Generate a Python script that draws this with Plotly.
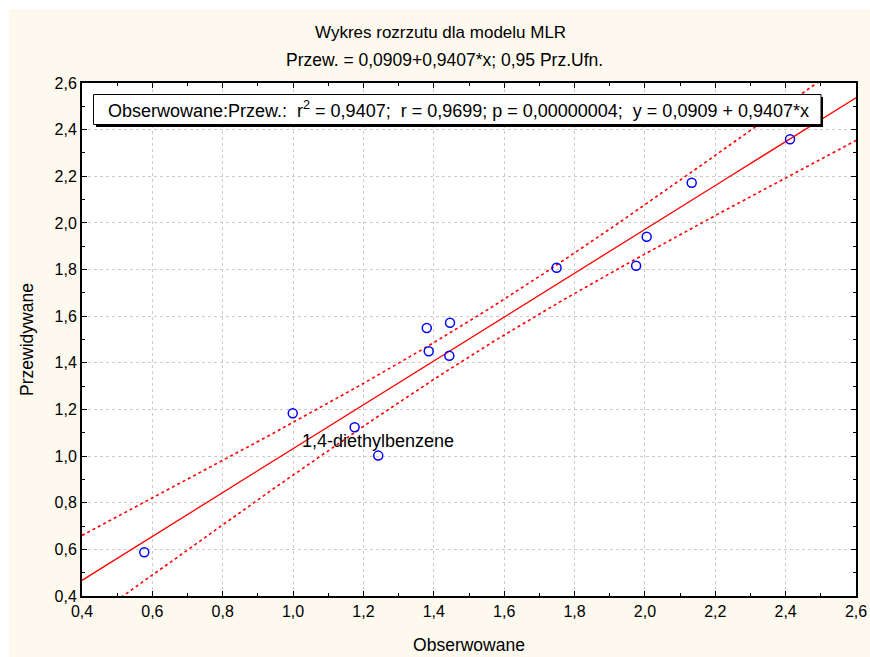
import numpy as np
import plotly.graph_objects as go

# Data
observed = [0.577, 0.999, 1.175, 1.242, 1.380, 1.3855, 1.446, 1.444, 1.749, 1.975, 2.005, 2.133, 2.4125]
predicted = [0.5875, 1.1836, 1.1236, 1.002, 1.549, 1.4495, 1.572, 1.4306, 1.808, 1.8166, 1.941, 2.1725, 2.3586]
point_labels = ["", "", "", "1,4-diethylbenzene", "", "", "", "", "", "", "", "", ""]
intercept = 0.0909
slope = 0.9407
t_crit = 2.201  # t(0.975, n-2=11)

title_line1 = "Wykres rozrzutu dla modelu MLR"
title_line2 = "Przew. = 0,0909+0,9407*x; 0,95 Prz.Ufn."
stats_text = ("Obserwowane:Przew.:\u00a0\u00a0r<sup>2</sup> = 0,9407;\u00a0\u00a0r = 0,9699; "
              "p = 0,00000004;\u00a0\u00a0y = 0,0909 + 0,9407*x")
x_title = "Obserwowane"
y_title = "Przewidywane"
tick_vals = [0.4, 0.6, 0.8, 1.0, 1.2, 1.4, 1.6, 1.8, 2.0, 2.2, 2.4, 2.6]

x = np.array(observed)
y = np.array(predicted)
n = len(x)
resid = y - (intercept + slope * x)
s = np.sqrt(np.sum(resid ** 2) / (n - 2))
sxx = np.sum((x - x.mean()) ** 2)
xl = np.linspace(0.4, 2.6, 200)
yl = intercept + slope * xl
half = t_crit * s * np.sqrt(1.0 / n + (xl - x.mean()) ** 2 / sxx)

FONT = "Arial, Liberation Sans, sans-serif"
W, H = 870, 657
L, R, T, B = 82, 14, 83, 61
pw, ph = W - L - R, H - T - B


def px(xp):
    return (xp - L) / pw


def py(yp):
    return (H - B - yp) / ph


fig = go.Figure()
fig.add_trace(go.Scatter(x=xl, y=yl, mode="lines", line=dict(color="#FF0000", width=1.3), hoverinfo="skip"))
fig.add_trace(go.Scatter(x=xl, y=yl + half, mode="lines", line=dict(color="#FF0000", width=1.6, dash="dot"), hoverinfo="skip"))
fig.add_trace(go.Scatter(x=xl, y=yl - half, mode="lines", line=dict(color="#FF0000", width=1.6, dash="dot"), hoverinfo="skip"))
fig.add_trace(go.Scatter(x=observed, y=predicted, mode="markers",
                         marker=dict(symbol="circle-open", size=9, color="#0000FF", line=dict(width=1.5, color="#0000FF"))))

for xi, yi, lab in zip(observed, predicted, point_labels):
    if lab:
        fig.add_annotation(x=xi, y=yi, text=lab, showarrow=False, yshift=15,
                           font=dict(family=FONT, size=18, color="black"))

axis_common = dict(
    range=[0.4, 2.6], tickvals=tick_vals, tickformat=".1f",
    ticks="inside", ticklen=5, tickwidth=1, tickcolor="black",
    showline=True, linecolor="black", linewidth=2, mirror="ticks",
    showgrid=True, gridcolor="#cccccc", griddash="dot", gridwidth=1,
    zeroline=False,
    minor=dict(dtick=0.1, ticks="inside", ticklen=3, tickcolor="black", showgrid=False),
    tickfont=dict(family=FONT, size=16, color="black"),
)
fig.update_xaxes(**axis_common, title=dict(text=x_title, font=dict(family=FONT, size=17.5, color="black"), standoff=20))
fig.update_yaxes(**axis_common, title=dict(text=y_title, font=dict(family=FONT, size=17.5, color="black"), standoff=16))

shapes = [
    dict(type="rect", xref="paper", yref="paper", x0=px(0), x1=px(9), y0=py(H), y1=py(0),
         fillcolor="white", line=dict(width=0), layer="below"),
    dict(type="rect", xref="paper", yref="paper", x0=px(0), x1=px(W), y0=py(9), y1=py(0),
         fillcolor="white", line=dict(width=0), layer="below"),
    dict(type="rect", xref="paper", yref="paper", x0=px(96), x1=px(823), y0=py(127), y1=py(97),
         fillcolor="black", line=dict(width=0), layer="above"),
    dict(type="rect", xref="paper", yref="paper", x0=px(93.5), x1=px(821), y0=py(124.5), y1=py(94.5),
         fillcolor="white", line=dict(width=1, color="black"), layer="above"),
]
fig.update_layout(shapes=shapes)

fig.add_annotation(xref="paper", yref="paper", x=px(440), y=py(33), text=title_line1, showarrow=False,
                   xanchor="center", yanchor="middle", font=dict(family=FONT, size=17, color="black"))
fig.add_annotation(xref="paper", yref="paper", x=px(444), y=py(60), text=title_line2, showarrow=False,
                   xanchor="center", yanchor="middle", font=dict(family=FONT, size=17.5, color="black"))
fig.add_annotation(xref="paper", yref="paper", x=px(458), y=py(109.5), text=stats_text, showarrow=False,
                   xanchor="center", yanchor="middle", font=dict(family=FONT, size=18, color="black"))

fig.update_layout(
    width=W, height=H,
    margin=dict(l=L, r=R, t=T, b=B, autoexpand=False),
    paper_bgcolor="#FEF9EE", plot_bgcolor="white",
    showlegend=False, separators=", ",
    font=dict(family=FONT, color="black"),
)
fig.write_html("out.html", config={"responsive": False},
               post_script="document.body.style.margin='0';document.body.style.overflow='hidden';")
